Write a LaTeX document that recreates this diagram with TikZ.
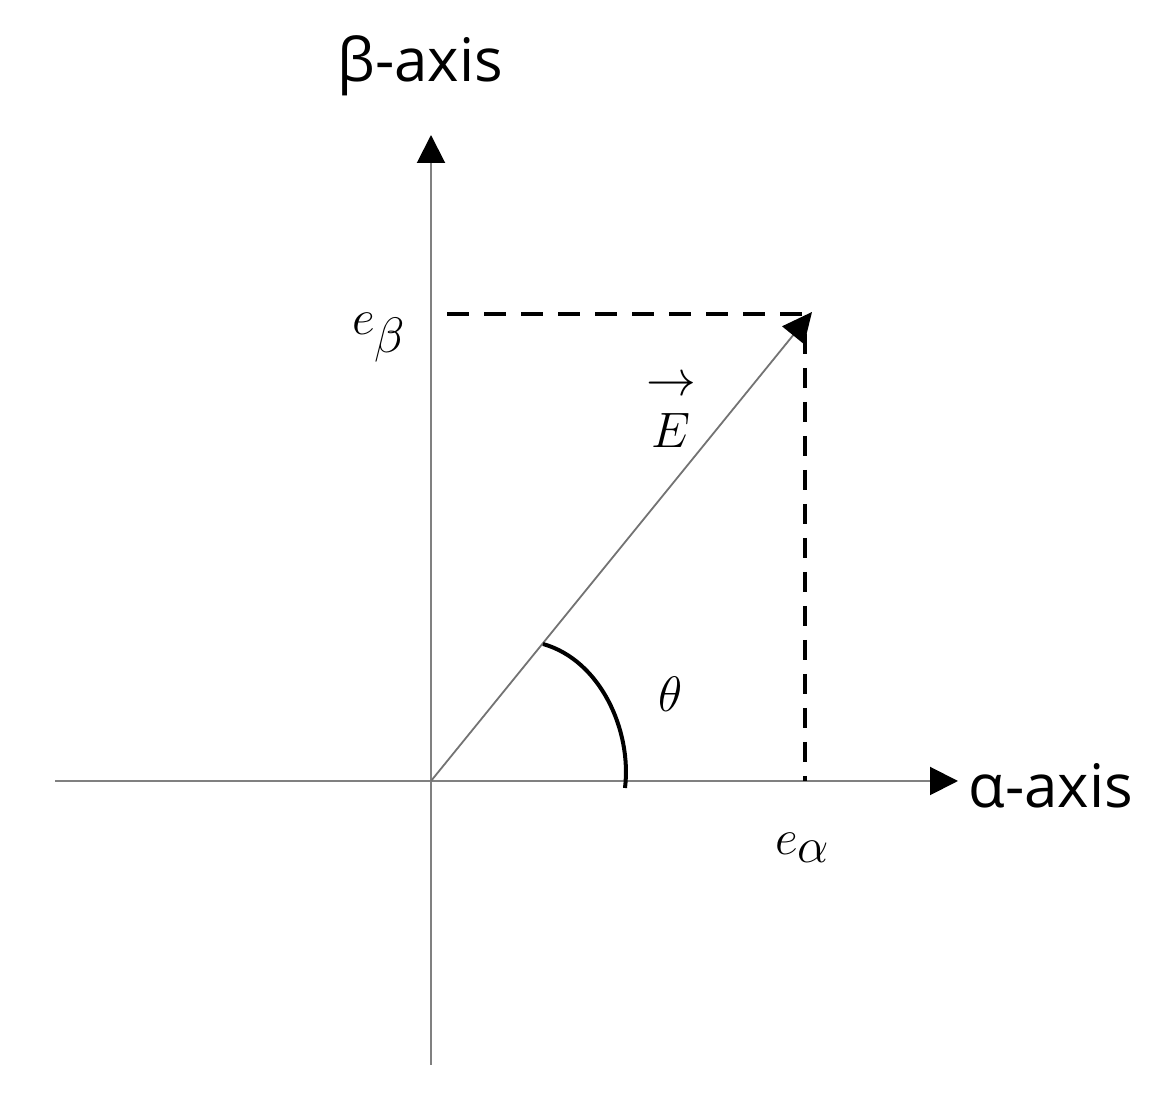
\documentclass[tikz,border=0pt]{standalone}
\usepackage{fontspec}
\newfontfamily\axisfont{Open Sans}
\usetikzlibrary{arrows.meta}
\begin{document}
\begin{tikzpicture}[x=0.5pt,y=-0.5pt,
  axisline/.style={draw=black!50,line width=1pt,-{Triangle[length=14pt,width=14pt,fill=black,color=black]}},
  vecline/.style={draw=black!55,line width=0.9pt,-{Triangle[length=15pt,width=14pt,fill=black,color=black]}},
  dashline/.style={draw=black,line width=2.3pt},
  anglearc/.style={draw=black,line width=2pt},
  axislabel/.style={inner sep=0pt,anchor=base west,font=\axisfont\fontsize{30}{36}\selectfont},
  mathlabel/.style={inner sep=0pt,font=\fontsize{33}{38}\selectfont}]
\useasboundingbox (0,0) rectangle (1164,1095);
\coordinate (O) at (431,781);
\coordinate (xl) at (55,781);
\coordinate (xr) at (958,781);
\coordinate (yb) at (431,1065);
\coordinate (yt) at (431,135);
\coordinate (tip) at (812,312);
\coordinate (hd0) at (447,314);
\coordinate (hd1) at (802,314);
\coordinate (vd0) at (805,334);
\coordinate (vd1) at (805,781);
\coordinate (a0) at (625,788);
\coordinate (a1) at (543,644);
\draw[axisline] (xl) -- (xr);
\draw[axisline] (yb) -- (yt);
\draw[dashline,dash pattern=on 11pt off 7.5pt] (hd0) -- (hd1);
\draw[dashline,dash pattern=on 10pt off 7pt] (vd0) -- (vd1);
\draw[vecline] (O) -- (tip);
\draw[anglearc] (a0) .. controls (632,730) and (600,660) .. (a1);
\node[axislabel] (ylab) at (337,82) {β-axis};
\node[axislabel] (xlab) at (968,808) {α-axis};
\node[mathlabel,anchor=base west] (eb) at (352,335) {$e_\beta$};
\node[mathlabel,anchor=base west] (ea) at (775,855) {$e_\alpha$};
\node[mathlabel,font=\fontsize{34}{40}\selectfont] (th) at (671,694) {$\theta$};
\node[inner sep=0pt,font=\fontsize{25}{30}\selectfont] (Earr) at (671,386) {$\rightarrow$};
\node[inner sep=0pt,font=\fontsize{25}{30}\selectfont] (E) at (671,431) {$E$};
\end{tikzpicture}
\end{document}
